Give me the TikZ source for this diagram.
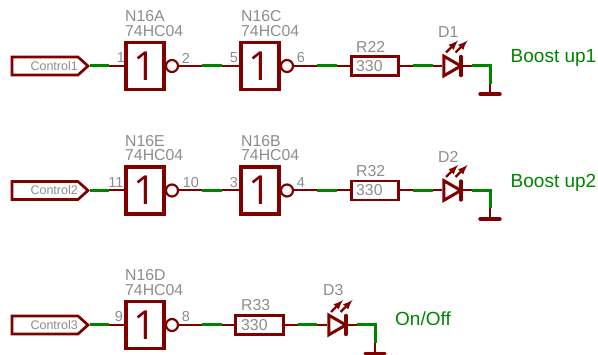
\documentclass[tikz,border=0pt]{standalone}
\usepackage{xcolor}
\usepackage{fontspec}
\setmainfont{Liberation Sans}
\newfontfamily\gatefont{Open Sans}
\usetikzlibrary{shapes, shapes.geometric, shapes.symbols, positioning}
\definecolor{symred}{RGB}{128,0,0}
\definecolor{netgreen}{RGB}{0,132,0}
\definecolor{labelgray}{RGB}{140,140,140}
\tikzset{
  gate/.style={rectangle, draw=symred, line width=3.5pt, minimum width=38pt, minimum height=47pt, inner sep=0pt, text=symred, font=\gatefont\fontsize{40}{40}\selectfont},
  bubble/.style={circle, draw=symred, line width=2.2pt, minimum size=12pt, inner sep=0pt},
  tag/.style={signal, signal to=east, signal pointer angle=84, draw=symred, line width=2.7pt, minimum width=76pt, minimum height=18pt, inner sep=0pt},
  res/.style={rectangle, draw=symred, line width=2.6pt, minimum width=47.5pt, minimum height=19pt, inner sep=0pt},
  led/.style={isosceles triangle, isosceles triangle apex angle=60, draw=symred, line width=3pt, minimum height=17pt, inner sep=0pt},
  pin/.style={symred, line width=2pt},
  net/.style={netgreen, line width=3pt},
  bar/.style={symred, line width=3.4pt, line cap=round},
  ray/.style={symred, line width=2.3pt, -latex},
  part/.style={text=labelgray, font=\fontsize{15.8}{16}\selectfont, inner sep=0pt},
  pinnum/.style={text=labelgray, font=\fontsize{14.5}{14.5}\selectfont, inner sep=0pt},
  ctl/.style={text=labelgray, font=\fontsize{12.5}{13}\selectfont, inner sep=0pt, anchor=east},
  sig/.style={text=netgreen, font=\fontsize{19}{19}\selectfont, inner sep=0pt, anchor=west}
}
\begin{document}
\begin{tikzpicture}[x=1pt, y=-1pt]
  \useasboundingbox (0,0) rectangle (598,355);

  % first row
  \node[tag] (ctl1) at (45, 66) {};
  \node[ctl] (ctl1txt) at (78, 66) {Control1};
  \node[gate] (n16a) at (145, 66) {1};
  \node[bubble] (n16ab) at (172, 66) {};
  \node[gate] (n16c) at (260, 66) {1};
  \node[bubble] (n16cb) at (287, 66) {};
  \node[res] (r22) at (375, 66) {};
  \node[led] (d1) at (449.5, 66) {};
  \coordinate (d1bar) at (461, 66);
  \coordinate (g1) at (490, 94);
  \coordinate (c1) at (490, 66);
  \node[part, anchor=west] (n16atxt) at (125, 16.5) {N16A};
  \node[part, anchor=west] (n16atype) at (125, 31) {74HC04};
  \node[part, anchor=west] (n16ctxt) at (241, 16.5) {N16C};
  \node[part, anchor=west] (n16ctype) at (241, 31) {74HC04};
  \node[part, anchor=west] (r22txt) at (356, 46.5) {R22};
  \node[part, anchor=west] (r22val) at (356, 66) {330};
  \node[part, anchor=west] (d1txt) at (438, 32) {D1};
  \node[pinnum] (p1) at (121, 58) {1};
  \node[pinnum] (p2) at (186, 58) {2};
  \node[pinnum] (p5) at (234, 58) {5};
  \node[pinnum] (p6) at (301, 58) {6};
  \node[sig] (boost1) at (510.5, 58) {Boost up1};

  \draw[pin] (ctl1.east) -- (n16a.west);
  \draw[pin] (n16ab.east) -- (n16c.west);
  \draw[pin] (n16cb.east) -- (r22.west);
  \draw[pin] (r22.east) -- (d1.west);
  \draw[pin] (d1bar) -- (c1);
  \draw[pin] (c1) -- (g1);
  \draw[net] (ctl1.east) -- ++(18.5,0);
  \draw[net] (202, 66) -- (221.5, 66);
  \draw[net] (317, 66) -- (336.5, 66);
  \draw[net] (413, 66) -- (433, 66);
  \draw[net] (472, 66) -- (c1) -- ++(0,18);
  \draw[bar] (d1bar) ++(0,-9.5) -- ++(0,19);
  \draw[bar] (g1) ++(-10,0) -- ++(20,0);
  \draw[ray] (446, 52.5) -- (458, 40.5);
  \draw[ray] (455.5, 52.5) -- (467.5, 40.5);

  % second row
  \node[tag] (ctl2) at (45, 190.5) {};
  \node[ctl] (ctl2txt) at (78, 190.5) {Control2};
  \node[gate] (n16e) at (145, 190.5) {1};
  \node[bubble] (n16eb) at (172, 190.5) {};
  \node[gate] (n16b) at (260, 190.5) {1};
  \node[bubble] (n16bb) at (287, 190.5) {};
  \node[res] (r32) at (375, 190.5) {};
  \node[led] (d2) at (449.5, 190.5) {};
  \coordinate (d2bar) at (461, 190.5);
  \coordinate (g2) at (490, 219);
  \coordinate (c2) at (490, 190.5);
  \node[part, anchor=west] (n16etxt) at (125, 141) {N16E};
  \node[part, anchor=west] (n16etype) at (125, 155.5) {74HC04};
  \node[part, anchor=west] (n16btxt) at (241, 141) {N16B};
  \node[part, anchor=west] (n16btype) at (241, 155.5) {74HC04};
  \node[part, anchor=west] (r32txt) at (356, 171) {R32};
  \node[part, anchor=west] (r32val) at (356, 190.5) {330};
  \node[part, anchor=west] (d2txt) at (438, 156.5) {D2};
  \node[pinnum] (p11) at (116, 182.5) {11};
  \node[pinnum] (p10) at (191, 182.5) {10};
  \node[pinnum] (p3) at (234, 182.5) {3};
  \node[pinnum] (p4) at (301, 182.5) {4};
  \node[sig] (boost2) at (510.5, 183) {Boost up2};

  \draw[pin] (ctl2.east) -- (n16e.west);
  \draw[pin] (n16eb.east) -- (n16b.west);
  \draw[pin] (n16bb.east) -- (r32.west);
  \draw[pin] (r32.east) -- (d2.west);
  \draw[pin] (d2bar) -- (c2);
  \draw[pin] (c2) -- (g2);
  \draw[net] (ctl2.east) -- ++(18.5,0);
  \draw[net] (202, 190.5) -- (221.5, 190.5);
  \draw[net] (317, 190.5) -- (336.5, 190.5);
  \draw[net] (413, 190.5) -- (433, 190.5);
  \draw[net] (472, 190.5) -- (c2) -- ++(0,18);
  \draw[bar] (d2bar) ++(0,-9.5) -- ++(0,19);
  \draw[bar] (g2) ++(-10,0) -- ++(20,0);
  \draw[ray] (446, 177) -- (458, 165);
  \draw[ray] (455.5, 177) -- (467.5, 165);

  % third row
  \node[tag] (ctl3) at (45, 325) {};
  \node[ctl] (ctl3txt) at (78, 325) {Control3};
  \node[gate] (n16d) at (145, 325) {1};
  \node[bubble] (n16db) at (172, 325) {};
  \node[res] (r33) at (259.5, 325) {};
  \node[led] (d3) at (334.5, 325) {};
  \coordinate (d3bar) at (346, 325);
  \coordinate (g3) at (375, 353.5);
  \coordinate (c3) at (375, 325);
  \node[part, anchor=west] (n16dtxt) at (125, 275.5) {N16D};
  \node[part, anchor=west] (n16dtype) at (125, 290.5) {74HC04};
  \node[part, anchor=west] (r33txt) at (241, 305.5) {R33};
  \node[part, anchor=west] (r33val) at (241, 325.5) {330};
  \node[part, anchor=west] (d3txt) at (323, 290.5) {D3};
  \node[pinnum] (p9) at (119, 316.5) {9};
  \node[pinnum] (p8) at (186, 316.5) {8};
  \node[sig] (onoff) at (395, 319) {On/Off};

  \draw[pin] (ctl3.east) -- (n16d.west);
  \draw[pin] (n16db.east) -- (r33.west);
  \draw[pin] (r33.east) -- (d3.west);
  \draw[pin] (d3bar) -- (c3);
  \draw[pin] (c3) -- (g3);
  \draw[net] (ctl3.east) -- ++(18.5,0);
  \draw[net] (202, 325) -- (221.5, 325);
  \draw[net] (298, 325) -- (317, 325);
  \draw[net] (357, 325) -- (c3) -- ++(0,18);
  \draw[bar] (d3bar) ++(0,-9.5) -- ++(0,19);
  \draw[bar] (g3) ++(-10,0) -- ++(20,0);
  \draw[ray] (331, 312) -- (343, 300);
  \draw[ray] (340.5, 312) -- (352.5, 300);
\end{tikzpicture}
\end{document}
